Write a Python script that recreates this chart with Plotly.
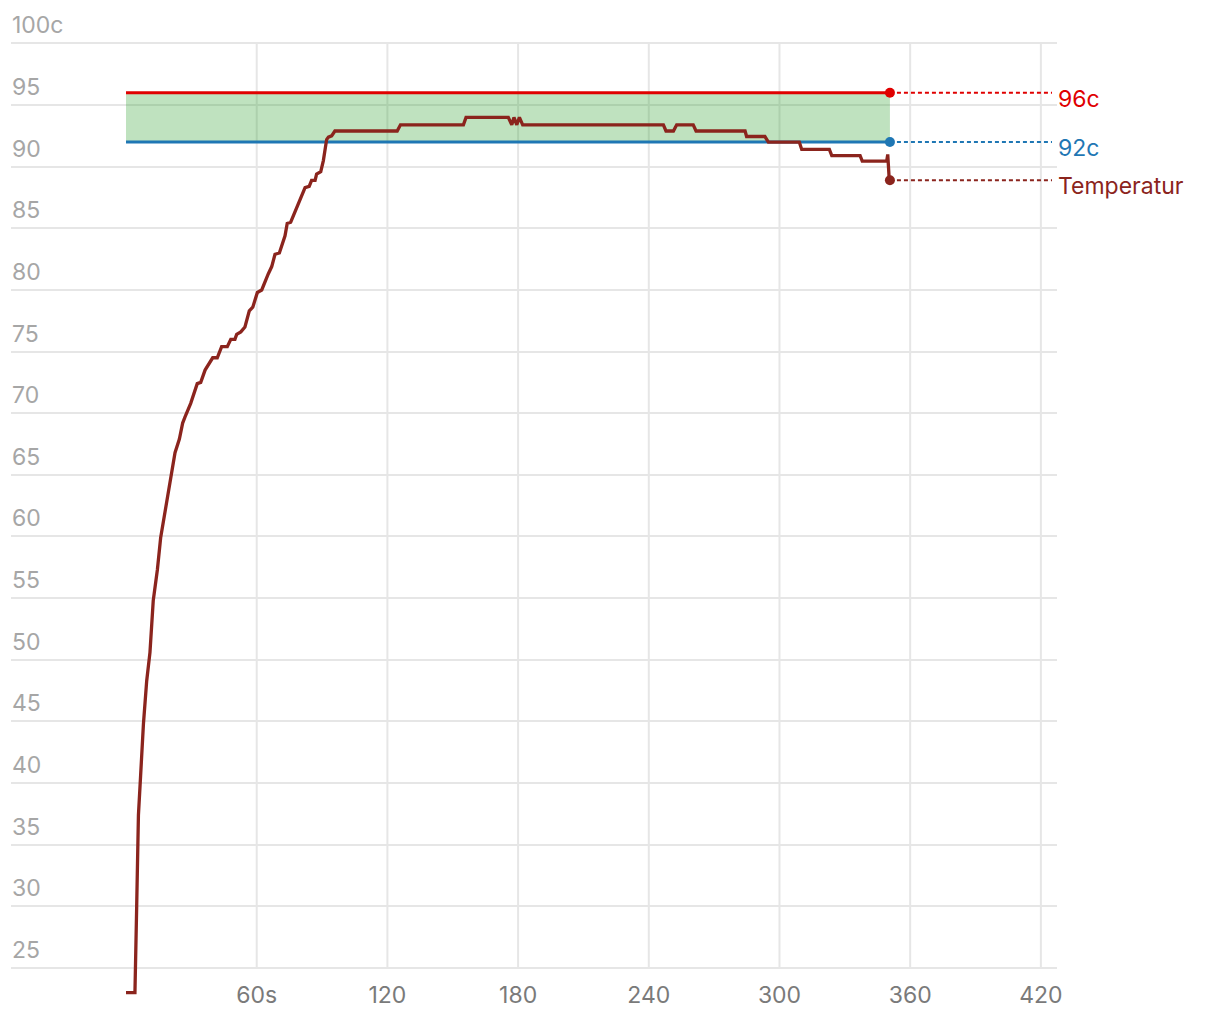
import plotly.graph_objects as go

# ---- data ----
time_s = [0, 4.1, 4.9, 5.7, 6.7, 8.0, 9.5, 11.0, 12.5, 14.4, 15.9, 17.9, 20.2, 22.5, 24.5,
          26.0, 27.1, 29.7, 32.7, 34.3, 36.3, 37.8, 39.8, 41.9, 43.9, 46.5, 48.1, 50.0,
          50.8, 52.7, 54.6, 56.6, 58.2, 60.3, 62.3, 65.3, 66.9, 68.4, 70.4, 73.0, 74.0,
          75.6, 79.9, 82.2, 84.1, 85.2, 86.8, 87.5, 89.4, 90.6, 92.1, 92.9, 94.4, 95.9,
          124.5, 126.0, 154.9, 156.1, 175.5, 177.1, 178.1, 179.4, 180.6, 182.1, 246.7,
          247.9, 251.3, 252.8, 260.4, 261.7, 284.2, 284.9, 293.3, 294.9, 309.1, 310.2,
          322.9, 324.0, 337.0, 338.0, 349.2, 349.7, 350.4, 350.7]
temperature = [23, 23, 30.0, 37.4, 40.6, 44.8, 48.3, 50.6, 54.8, 57.3, 59.9, 62.1, 64.4, 66.8,
               67.9, 69.2, 69.7, 70.8, 72.4, 72.5, 73.5, 73.9, 74.5, 74.5, 75.4, 75.4, 76.0,
               76.0, 76.4, 76.6, 77.0, 78.3, 78.6, 79.8, 80.0, 81.3, 81.9, 82.9, 83.0, 84.4,
               85.4, 85.5, 87.3, 88.3, 88.4, 88.9, 88.9, 89.4, 89.6, 90.5, 92.2, 92.4, 92.5,
               92.9, 92.9, 93.4, 93.4, 94.0, 94.0, 93.4, 94.0, 93.4, 94.0, 93.4, 93.4,
               92.9, 92.9, 93.4, 93.4, 92.9, 92.9, 92.45, 92.45, 92.0, 92.0, 91.4,
               91.4, 90.9, 90.9, 90.45, 90.45, 91.0, 88.9, 88.9]

band_time = [0, 350.7]
upper_limit = [96, 96]
lower_limit = [92, 92]

y_ticks = [25, 30, 35, 40, 45, 50, 55, 60, 65, 70, 75, 80, 85, 90, 95, 100]
y_ticktext = ["25", "30", "35", "40", "45", "50", "55", "60", "65", "70", "75", "80",
              "85", "90", "95", "100c"]
x_ticks = [60, 120, 180, 240, 300, 360, 420]
x_ticktext = ["60s", "120", "180", "240", "300", "360", "420"]

labels = ["96c", "92c", "Temperatur"]
label_values = [96, 92, temperature[-1]]

RED = "#e00000"
BLUE = "#1f77b4"
TEMP = "#8b241d"
FONT = "Inter"

fig = go.Figure()

# band fill
fig.add_trace(go.Scatter(x=band_time, y=lower_limit, mode="lines", line=dict(width=0),
                         hoverinfo="skip", showlegend=False))
fig.add_trace(go.Scatter(x=band_time, y=upper_limit, mode="lines", line=dict(width=0),
                         fill="tonexty", fillcolor="rgba(44,160,44,0.30)",
                         hoverinfo="skip", showlegend=False))
# limit lines
fig.add_trace(go.Scatter(x=band_time, y=upper_limit, mode="lines", line=dict(color=RED, width=3),
                         showlegend=False))
fig.add_trace(go.Scatter(x=band_time, y=lower_limit, mode="lines", line=dict(color=BLUE, width=3),
                         showlegend=False))
# temperature
fig.add_trace(go.Scatter(x=time_s, y=temperature, mode="lines", line=dict(color=TEMP, width=3.3),
                         showlegend=False))
# end markers
end_colors = [RED, BLUE, TEMP]
fig.add_trace(go.Scatter(x=[band_time[-1], band_time[-1], time_s[-1]], y=label_values,
                         mode="markers", marker=dict(color=end_colors, size=10),
                         cliponaxis=False, showlegend=False))

# vertical grid lines (span 25..100)
for xv in x_ticks:
    fig.add_shape(type="line", xref="x", yref="y", x0=xv, x1=xv, y0=y_ticks[0], y1=y_ticks[-1],
                  line=dict(color="#e6e6e6", width=2), layer="below")

# dotted leaders + labels
for lab, val, col in zip(labels, label_values, end_colors):
    fig.add_shape(type="line", xref="x", yref="y", x0=band_time[-1], x1=425.1, y0=val, y1=val,
                  line=dict(color=col, width=2, dash="4px,3px"))
    fig.add_annotation(x=1, xref="paper", y=val, yref="y", text=lab, showarrow=False,
                       xanchor="left", yanchor="middle", xshift=-1, yshift=-6,
                       font=dict(family=FONT, size=23, color=col))

fig.update_layout(
    width=1220, height=1020,
    margin=dict(l=11, r=163, t=40.53, b=25.38, pad=0),
    paper_bgcolor="white", plot_bgcolor="white",
    font=dict(family=FONT, size=23),
    xaxis=dict(range=[-52.8, 427.4], tickvals=x_ticks, ticktext=x_ticktext, showgrid=False,
               zeroline=False, showline=False, ticks="", ticklabelstandoff=-16,
               automargin=False,
               tickfont=dict(family=FONT, size=23, color="#7a7a7a")),
    yaxis=dict(range=[22.8, 100.2], tickvals=y_ticks, ticktext=y_ticktext, showgrid=True,
               gridcolor="#e6e6e6", gridwidth=2, zeroline=False, showline=False, ticks="",
               ticklabelposition="inside top", ticklabeloverflow="allow", automargin=False,
               ticklabelshift=-2, ticklabelstandoff=-2,
               tickfont=dict(family=FONT, size=23, color="#a6a6a6")),
)

fig.write_html("out.html", config={"displayModeBar": False},
               post_script="document.body.style.margin='0';document.body.style.overflow='hidden';")
